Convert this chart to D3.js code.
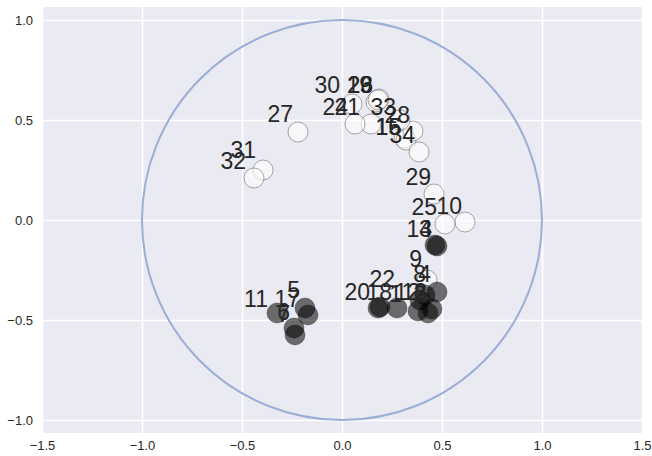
<!DOCTYPE html>
<html>
<head>
<meta charset="utf-8"/>
<script src="https://cdn.jsdelivr.net/npm/d3@7"></script>
<style>
  body { margin: 0; background: #fff; }
  text { font-family: "Liberation Sans", Arial, sans-serif; }
</style>
</head>
<body>
<div id="chart"></div>
<script>
// node ids (karate club), 0 = dark faction, 1 = light faction
var nodeIds  = [1, 2, 3, 4, 5, 6, 7, 8, 9, 10, 11, 12, 13, 14, 15, 16, 17,
                18, 19, 20, 21, 22, 23, 24, 25, 26, 27, 28, 29, 30, 31, 32, 33, 34];
var nodeGroup = [0, 0, 0, 0, 0, 0, 0, 0, 1, 1, 0, 0, 0, 0, 1, 1, 0,
                 0, 1, 0, 1, 0, 1, 1, 1, 1, 1, 1, 1, 1, 1, 1, 1, 1];
// circle positions
var nodeX = [0.38, 0.45, 0.475, 0.475, -0.185, -0.24, -0.235, 0.415, 0.425, 0.615, -0.325, 0.39, 0.43, 0.465, 0.31, 0.32, -0.17,
             0.275, 0.17, 0.18, 0.145, 0.19, 0.185, 0.065, 0.515, 0.18, -0.22, 0.355, 0.46, 0.05, -0.395, -0.44, 0.29, 0.385];
var nodeY = [-0.455, -0.445, -0.13, -0.36, -0.44, -0.54, -0.575, -0.375, -0.30, -0.01, -0.465, -0.40, -0.465, -0.125, 0.41, 0.40, -0.475,
             -0.44, 0.59, -0.44, 0.48, -0.435, 0.605, 0.48, -0.02, 0.60, 0.44, 0.445, 0.13, 0.58, 0.25, 0.21, 0.50, 0.34];
// label anchor positions (right end, baseline)
var labelX = [0.30, 0.42, 0.45, 0.445, -0.21, -0.26, -0.26, 0.42, 0.40, 0.60, -0.37, 0.39, 0.425, 0.45, 0.295, 0.295, -0.21,
              0.25, 0.15, 0.14, 0.09, 0.265, 0.155, 0.03, 0.475, 0.155, -0.245, 0.34, 0.445, -0.01, -0.43, -0.48, 0.27, 0.365];
var labelY = [-0.41, -0.41, -0.085, -0.31, -0.39, -0.50, -0.51, -0.31, -0.235, 0.03, -0.435, -0.40, -0.40, -0.085, 0.425, 0.425, -0.435,
              -0.40, 0.635, -0.40, 0.525, -0.335, 0.635, 0.525, 0.025, 0.635, 0.49, 0.485, 0.175, 0.635, 0.31, 0.255, 0.525, 0.385];
var xTicks = [-1.5, -1.0, -0.5, 0.0, 0.5, 1.0, 1.5];
var yTicks = [-1.0, -0.5, 0.0, 0.5, 1.0];

var width = 652, height = 456;
var svg = d3.select('#chart').append('svg')
    .attr('width', width).attr('height', height);

var x = d3.scaleLinear().domain([-1.5, 1.5]).range([42, 642]);
var y = d3.scaleLinear().domain([-1.065, 1.065]).range([433, 7]);

svg.append('rect')
    .attr('x', x(-1.5)).attr('y', y(1.065))
    .attr('width', x(1.5) - x(-1.5)).attr('height', y(-1.065) - y(1.065))
    .attr('fill', '#EAEAF2');

var fmt = d3.format('.1f');

// grid + tick labels
var gx = svg.append('g').attr('transform', 'translate(0,' + y(-1.065) + ')')
    .call(d3.axisBottom(x).tickValues(xTicks).tickFormat(fmt)
        .tickSize(-(y(-1.065) - y(1.065))).tickPadding(8));
var gy = svg.append('g').attr('transform', 'translate(' + x(-1.5) + ',0)')
    .call(d3.axisLeft(y).tickValues(yTicks).tickFormat(fmt)
        .tickSize(-(x(1.5) - x(-1.5))).tickPadding(9));
[gx, gy].forEach(function(g) {
  g.select('.domain').remove();
  g.selectAll('line').attr('stroke', '#fff').attr('stroke-width', 1.6);
  g.selectAll('text').attr('fill', '#262626').style('font-size', '13px')
    .style('font-family', '"Liberation Sans", Arial, sans-serif');
});

// unit circle
svg.append('circle')
    .attr('cx', x(0)).attr('cy', y(0))
    .attr('r', x(1) - x(0))
    .attr('fill', 'none')
    .attr('stroke', '#9AAED6')
    .attr('stroke-width', 2);

var nodes = nodeIds.map(function(id, i) {
  return {id: id, g: nodeGroup[i], x: nodeX[i], y: nodeY[i], lx: labelX[i], ly: labelY[i]};
});

svg.append('g').selectAll('circle')
    .data(nodes.filter(function(d) { return d.g === 1; }))
    .join('circle')
    .attr('cx', function(d) { return x(d.x); })
    .attr('cy', function(d) { return y(d.y); })
    .attr('r', 10)
    .attr('fill', '#ffffff').attr('fill-opacity', 0.6)
    .attr('stroke', '#666').attr('stroke-opacity', 0.55).attr('stroke-width', 1);

svg.append('g').selectAll('circle')
    .data(nodes.filter(function(d) { return d.g === 0; }))
    .join('circle')
    .attr('cx', function(d) { return x(d.x); })
    .attr('cy', function(d) { return y(d.y); })
    .attr('r', 10)
    .attr('fill', '#000').attr('fill-opacity', 0.55)
    .attr('stroke', '#000').attr('stroke-opacity', 0.3).attr('stroke-width', 1);

svg.append('g').selectAll('text')
    .data(nodes)
    .join('text')
    .attr('x', function(d) { return x(d.lx); })
    .attr('y', function(d) { return y(d.ly); })
    .attr('text-anchor', 'end')
    .attr('fill', '#262626')
    .style('font-size', '23px')
    .text(function(d) { return d.id; });
</script>
</body>
</html>
